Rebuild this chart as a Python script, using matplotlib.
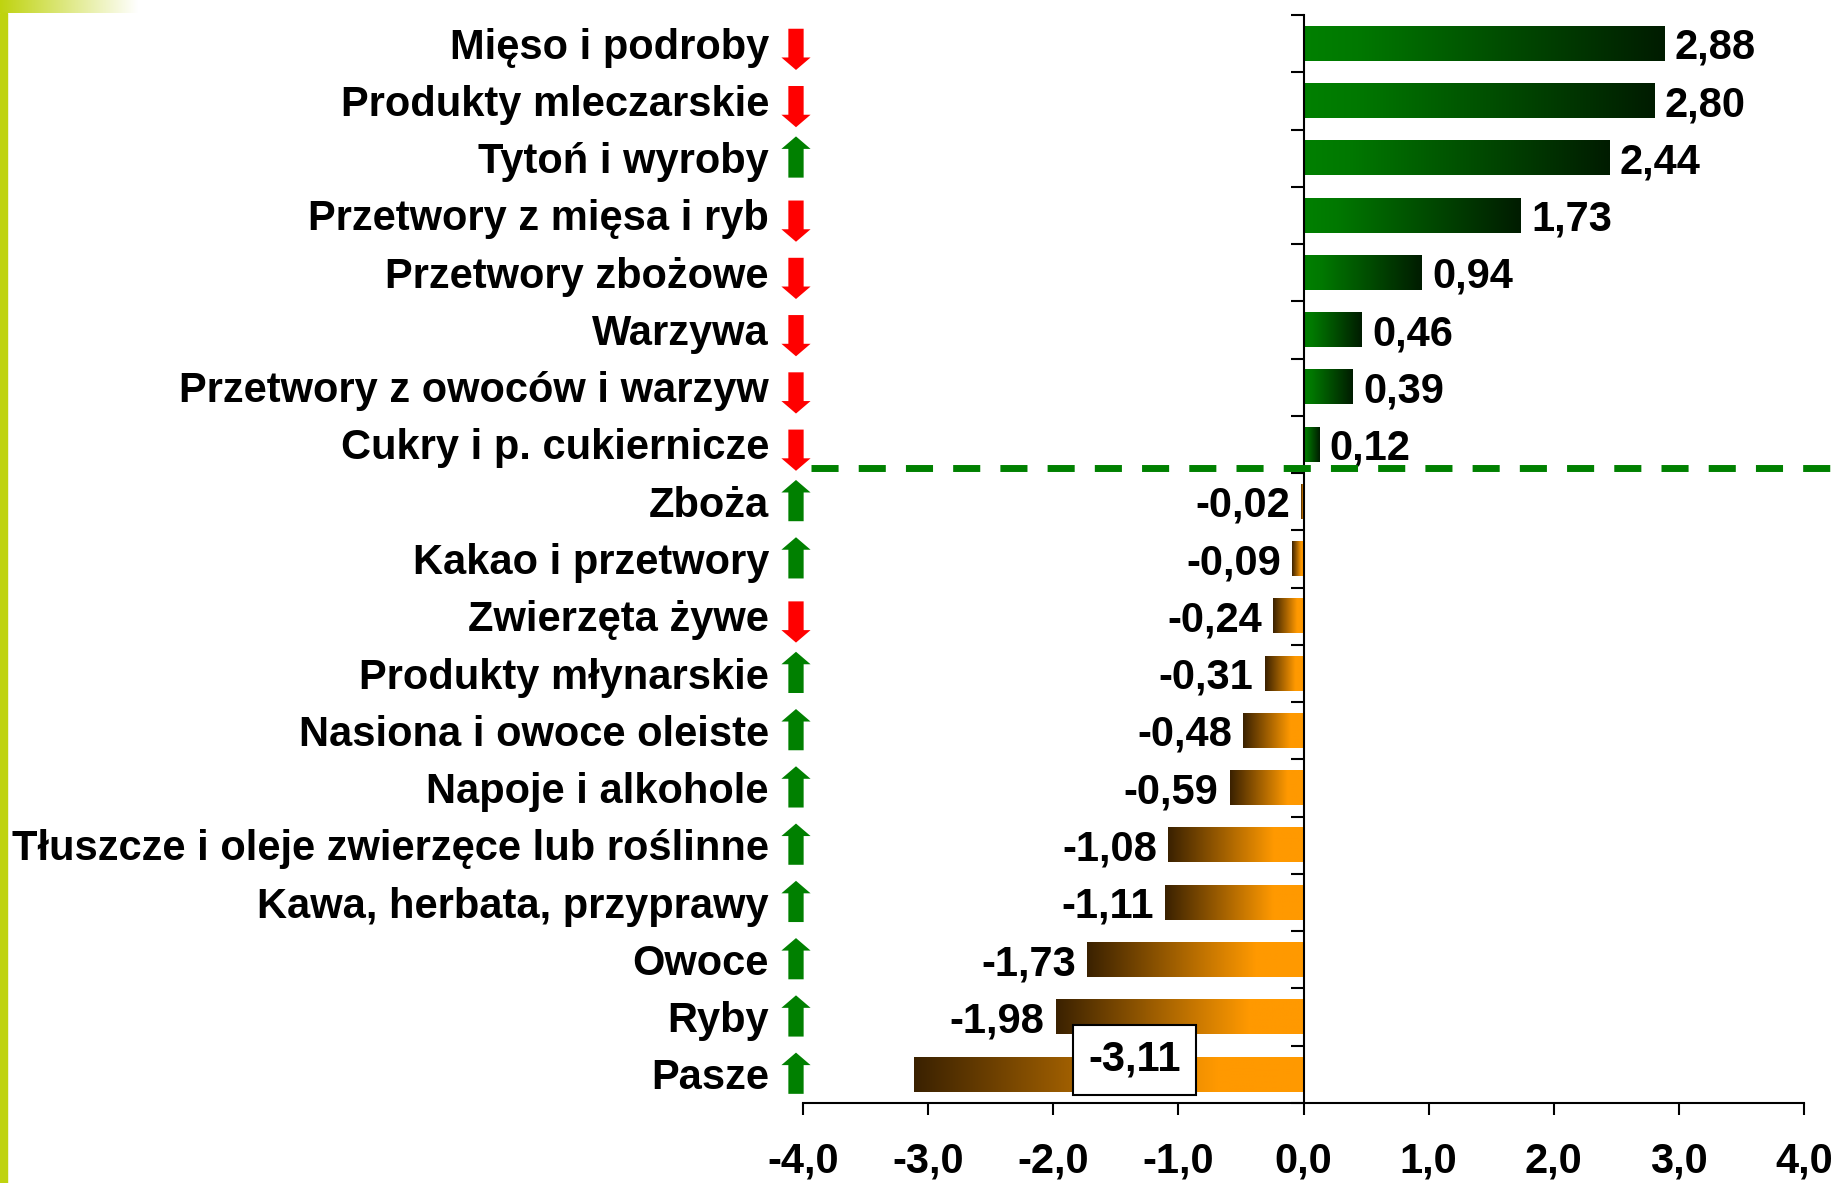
import numpy as np
import matplotlib
matplotlib.use('Agg')
import matplotlib.pyplot as plt
from matplotlib.colors import LinearSegmentedColormap
from matplotlib.patches import Rectangle

plt.rcParams['font.family'] = ['Liberation Sans', 'DejaVu Sans']
plt.rcParams['font.weight'] = 'bold'

categories = [
    "Mięso i podroby", "Produkty mleczarskie", "Tytoń i wyroby",
    "Przetwory z mięsa i ryb", "Przetwory zbożowe", "Warzywa",
    "Przetwory z owoców i warzyw", "Cukry i p. cukiernicze", "Zboża",
    "Kakao i przetwory", "Zwierzęta żywe", "Produkty młynarskie",
    "Nasiona i owoce oleiste", "Napoje i alkohole",
    "Tłuszcze i oleje zwierzęce lub roślinne", "Kawa, herbata, przyprawy",
    "Owoce", "Ryby", "Pasze",
]
values = [2.88, 2.80, 2.44, 1.73, 0.94, 0.46, 0.39, 0.12, -0.02, -0.09,
          -0.24, -0.31, -0.48, -0.59, -1.08, -1.11, -1.73, -1.98, -3.11]
trend = ['down', 'down', 'up', 'down', 'down', 'down', 'down', 'down', 'up',
         'up', 'down', 'up', 'up', 'up', 'up', 'up', 'up', 'up', 'up']
xticks = [-4, -3, -2, -1, 0, 1, 2, 3, 4]


def fmt(v, nd=2):
    return f"{v:.{nd}f}".replace('.', ',')


green_cmap = LinearSegmentedColormap.from_list(
    'gr', [(0, '#008000'), (0.15, '#007800'), (1, '#001C00')])
orange_cmap = LinearSegmentedColormap.from_list(
    'or', [(0, '#3A2100'), (0.78, '#FF9900'), (1, '#FF9900')])

fig = plt.figure(figsize=(18.38, 11.83), dpi=100)
ax = fig.add_axes([803 / 1838, 80 / 1183, 1001 / 1838, 1088 / 1183])

y = np.arange(len(categories))
bars = ax.barh(y, values, height=0.6, color='none', edgecolor='none')
grad = np.linspace(0, 1, 256).reshape(1, -1)
for bar, v in zip(bars, values):
    bb = bar.get_bbox()
    x0, x1 = sorted([bb.x0, bb.x1])
    y0, y1 = sorted([bb.y0, bb.y1])
    ax.imshow(grad, extent=[x0, x1, y0, y1], aspect='auto',
              cmap=green_cmap if v > 0 else orange_cmap, zorder=2,
              interpolation='bilinear')

ax.set_xlim(-4, 4)
ax.set_ylim(len(categories) - 0.5, -0.5)

# axes styling
for s in ['top', 'right']:
    ax.spines[s].set_visible(False)
ax.spines['left'].set_position(('data', 0))
ax.spines['left'].set_linewidth(1.5)
ax.spines['bottom'].set_linewidth(1.5)
ax.spines['left'].set_zorder(3)
ax.set_yticks(np.arange(-0.5, len(categories), 1))
ax.set_yticklabels([])
ax.tick_params(axis='y', direction='out', length=9.5, width=1.5)
ax.set_xticks(xticks)
ax.set_xticklabels([fmt(t, 1) for t in xticks])
ax.tick_params(axis='x', direction='out', length=8.6, width=1.5, pad=19,
               labelsize=30)

trans = ax.get_yaxis_transform()

# category labels and arrows
for i, (name, t) in enumerate(zip(categories, trend)):
    ax.text(-0.034, i + 0.262, name, transform=trans, ha='right',
            va='baseline', fontsize=30, fontweight='bold')
    if t == 'up':
        c = i - 0.02
        start, end, col = c + 0.36, c - 0.36, '#008000'
    else:
        c = i + 0.1
        start, end, col = c - 0.36, c + 0.36, '#FF0000'
    ax.annotate('', xy=(-0.007, end), xytext=(-0.007, start),
                xycoords=trans, textcoords=trans, annotation_clip=False,
                arrowprops=dict(
                    arrowstyle='simple,head_length=0.45,head_width=1.05,tail_width=0.55',
                    mutation_scale=20, color=col, lw=0,
                    shrinkA=0, shrinkB=0))

# value labels
vmin = min(values)
for i, v in enumerate(values):
    if v == vmin:
        ax.text(-1.35, i - 0.06, fmt(v), ha='center', va='baseline',
                fontsize=30, fontweight='bold', zorder=6,
                bbox=dict(boxstyle='square,pad=0.36', fc='white',
                          ec='black', lw=1.5))
        continue
    ax.annotate(fmt(v), xy=(v, i + 0.265),
                xytext=(8 if v > 0 else -8, 0), textcoords='offset points',
                ha='left' if v > 0 else 'right', va='baseline',
                fontsize=30, fontweight='bold')

# dashed separator between positive and negative values
ax.plot([-3.94, 4.28], [7.41, 7.41], color='#008000', lw=5,
        ls=(0, (3.9, 2.9)), dash_capstyle='butt', clip_on=False, zorder=5)

# slide decoration
fig.patches.append(Rectangle((0, 0), 7 / 1838, 1 - 13 / 1183,
                             transform=fig.transFigure, color='#BFD30F'))
deco = fig.add_axes([0, 1 - 13 / 1183, 138 / 1838, 13 / 1183])
deco_cmap = LinearSegmentedColormap.from_list('dc', ['#BFD30F', '#FFFFFF'])
deco.imshow(grad, aspect='auto', cmap=deco_cmap, extent=[0, 1, 0, 1])
deco.axis('off')

fig.savefig('out.png', dpi=100)
